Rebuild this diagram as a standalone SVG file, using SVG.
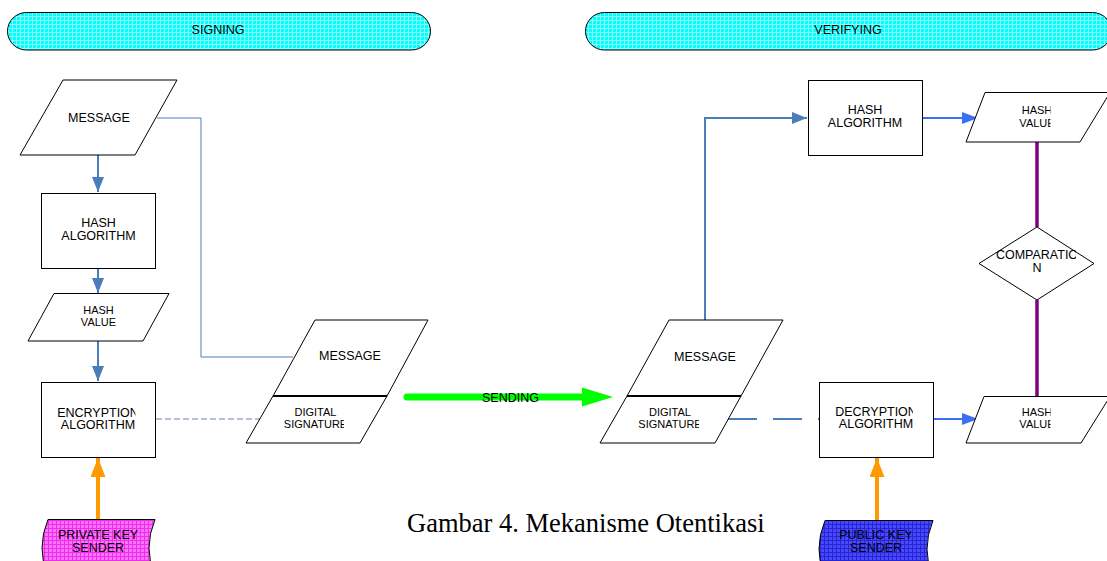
<svg xmlns="http://www.w3.org/2000/svg" width="1107" height="561" viewBox="0 0 1107 561">
<style>
.shape{fill:#ffffff;stroke:#000000;stroke-width:1}
.lbl{font-family:"Liberation Sans",Arial,sans-serif;font-size:12.5px;fill:#000;text-anchor:middle}
.sm{font-family:"Liberation Sans",Arial,sans-serif;font-size:11px;fill:#000;text-anchor:middle}
.cap{font-family:"Liberation Serif","Times New Roman",serif;font-size:26.5px;fill:#000}
.thin{fill:none;stroke:#4a7ebb;stroke-width:1}
.blue{fill:none;stroke:#4a7ebb;stroke-width:2}
.bright{fill:none;stroke:#3b6ff6;stroke-width:2}
.orange{fill:none;stroke:#ff9900;stroke-width:4}
.purple{fill:none;stroke:#800080;stroke-width:3.5}
</style>
<defs>
<pattern id="gCyan" width="4" height="4" patternUnits="userSpaceOnUse"><rect width="4" height="4" fill="#00ffff"/><path d="M0 0.5H4M0.5 0V4" stroke="#90ffff" stroke-width="1"/></pattern>
<pattern id="gPink" width="4" height="4" patternUnits="userSpaceOnUse"><rect width="4" height="4" fill="#ff70ff"/><path d="M0 0.5H4M0.5 0V4" stroke="#e830e8" stroke-width="1"/></pattern>
<pattern id="gBlue" width="4" height="4" patternUnits="userSpaceOnUse"><rect width="4" height="4" fill="#4848ff"/><path d="M0 0.5H4M0.5 0V4" stroke="#2626d0" stroke-width="1"/></pattern>
<marker id="aBlue" markerUnits="userSpaceOnUse" markerWidth="16" markerHeight="12" refX="15" refY="6" orient="auto"><path d="M0 0L15 6L0 12Z" fill="#4a7ebb"/></marker>
<marker id="aBright" markerUnits="userSpaceOnUse" markerWidth="18" markerHeight="12" refX="16" refY="6" orient="auto"><path d="M0 0L16 6L0 12Z" fill="#3b6ff6"/></marker>
<marker id="aOrange" markerUnits="userSpaceOnUse" markerWidth="20" markerHeight="15" refX="19" refY="7.5" orient="auto"><path d="M0 0L19 7.5L0 15Z" fill="#ff9900"/></marker>
<clipPath id="cEnc"><rect x="41" y="382" width="94.5" height="75"/></clipPath>
<clipPath id="cSig1"><rect x="246" y="396" width="98" height="47"/></clipPath>
<clipPath id="cSig2"><rect x="600" y="396" width="99" height="47"/></clipPath>
<clipPath id="cHv1"><rect x="966" y="92" width="84.5" height="50"/></clipPath>
<clipPath id="cHv2"><rect x="966" y="396" width="84.5" height="47"/></clipPath>
<clipPath id="cCmp"><rect x="979" y="227" width="97" height="73"/></clipPath>
<clipPath id="cDec"><rect x="819" y="382" width="94" height="75"/></clipPath>
<clipPath id="cPub"><rect x="819" y="520" width="92" height="41"/></clipPath>
</defs>
<rect width="1107" height="561" fill="#ffffff"/>

<g id="connectors">
<path class="thin" d="M157 118H201V357H293"/>
<path class="blue" d="M98 155V192" marker-end="url(#aBlue)"/>
<path class="blue" d="M98 268V293" marker-end="url(#aBlue)"/>
<path class="blue" d="M98 341V381" marker-end="url(#aBlue)"/>
<path class="orange" d="M98 520V458" marker-end="url(#aOrange)"/>
<path d="M156 419H262" fill="none" stroke="#6680aa" stroke-width="1" stroke-dasharray="6 3"/>
<g id="sending">
<path d="M407 397H585" fill="none" stroke="#00ff00" stroke-width="7" stroke-linecap="round"/>
<path d="M582 387.5L613 397L582 406.5Z" fill="#00ff00"/>
<text class="lbl" x="510.5" y="401.5">SENDING</text>
</g>
<path class="blue" d="M705 320V118H807" marker-end="url(#aBlue)"/>
<path class="bright" d="M923 118H978" marker-end="url(#aBright)"/>
<path d="M728 419H819" fill="none" stroke="#4a7ebb" stroke-width="2" stroke-dasharray="29 16"/>
<path class="bright" d="M934 419H978" marker-end="url(#aBright)"/>
<path class="orange" d="M877 520V458" marker-end="url(#aOrange)"/>
<path class="purple" d="M1037 142V227"/>
<path class="purple" d="M1037 300V396"/>
</g>

<g id="signing-banner">
<rect x="7.5" y="12.5" width="423" height="37.5" rx="19" ry="19" fill="url(#gCyan)" stroke="#000" stroke-width="1"/>
<text class="lbl" x="218" y="34">SIGNING</text>
</g>
<g id="verifying-banner">
<rect x="585.5" y="12.5" width="526" height="37.5" rx="19" ry="19" fill="url(#gCyan)" stroke="#000" stroke-width="1"/>
<text class="lbl" x="848" y="34">VERIFYING</text>
</g>

<g id="message-1">
<path class="shape" d="M63 80H177L135 155H20Z"/>
<text class="lbl" x="99" y="122">MESSAGE</text>
</g>
<g id="hash-algorithm-1">
<rect class="shape" x="41.5" y="193.5" width="114" height="75"/>
<text class="lbl" x="98.5" y="227">HASH</text>
<text class="lbl" x="98.5" y="240">ALGORITHM</text>
</g>
<g id="hash-value-1">
<path class="shape" d="M54 293.5H169L143 341H28Z"/>
<text class="sm" x="98.5" y="314">HASH</text>
<text class="sm" x="98.5" y="326">VALUE</text>
</g>
<g id="encryption-algorithm">
<rect class="shape" x="41.5" y="382.5" width="114" height="75"/>
<g clip-path="url(#cEnc)">
<text class="lbl" x="98" y="417">ENCRYPTION</text>
<text class="lbl" x="98" y="429">ALGORITHM</text>
</g>
</g>
<g id="private-key-sender">
<path d="M48 519.5H155Q143 548 155 577H48Q36 548 48 519.5Z" fill="url(#gPink)" stroke="#000" stroke-width="1"/>
<text class="lbl" x="98" y="539">PRIVATE KEY</text>
<text class="lbl" x="98" y="552">SENDER</text>
</g>

<g id="signed-message">
<path class="shape" d="M315 320H428L387 396H273Z"/>
<path class="shape" d="M273 396H387L360 443H246Z"/>
<path d="M273 396H387" stroke="#000" stroke-width="2"/>
<text class="lbl" x="350" y="360">MESSAGE</text>
<g clip-path="url(#cSig1)">
<text class="sm" x="315.5" y="416">DIGITAL</text>
<text class="sm" x="315.5" y="428">SIGNATURE</text>
</g>
</g>

<g id="received-message">
<path class="shape" d="M669 320H783L741 396H627Z"/>
<path class="shape" d="M627 396H741L715 443H600Z"/>
<path d="M627 396H741" stroke="#000" stroke-width="2"/>
<text class="lbl" x="705" y="361">MESSAGE</text>
<g clip-path="url(#cSig2)">
<text class="sm" x="670" y="416">DIGITAL</text>
<text class="sm" x="670" y="428">SIGNATURE</text>
</g>
</g>

<g id="hash-algorithm-2">
<rect class="shape" x="808.5" y="80.5" width="114" height="75"/>
<text class="lbl" x="865" y="114">HASH</text>
<text class="lbl" x="865" y="127">ALGORITHM</text>
</g>
<g id="hash-value-2">
<path class="shape" d="M985 92.5H1110L1080 142H966Z"/>
<g clip-path="url(#cHv1)">
<text class="sm" x="1037" y="114">HASH</text>
<text class="sm" x="1037" y="127">VALUE</text>
</g>
</g>
<g id="comparation">
<path class="shape" d="M1037 227L1094 263.5L1037 300L979 263.5Z"/>
<g clip-path="url(#cCmp)">
<text class="lbl" x="1037" y="259">COMPARATIO</text>
<text class="lbl" x="1037" y="272">N</text>
</g>
</g>
<g id="decryption-algorithm">
<rect class="shape" x="819.5" y="382.5" width="114" height="75"/>
<g clip-path="url(#cDec)">
<text class="lbl" x="876" y="416">DECRYPTION</text>
<text class="lbl" x="876" y="428">ALGORITHM</text>
</g>
</g>
<g id="hash-value-3">
<path class="shape" d="M984 396.5H1110L1081 443H966Z"/>
<g clip-path="url(#cHv2)">
<text class="sm" x="1037" y="416">HASH</text>
<text class="sm" x="1037" y="428">VALUE</text>
</g>
</g>
<g id="public-key-sender">
<path d="M825 520.5H933Q921 549 933 578H825Q813 549 825 520.5Z" fill="url(#gBlue)" stroke="#000" stroke-width="1"/>
<g clip-path="url(#cPub)">
<text class="lbl" x="876" y="539">PUBLIC KEY</text>
<text class="lbl" x="876" y="552">SENDER</text>
</g>
</g>

<text class="cap" x="407" y="532">Gambar 4. Mekanisme Otentikasi</text>
</svg>
